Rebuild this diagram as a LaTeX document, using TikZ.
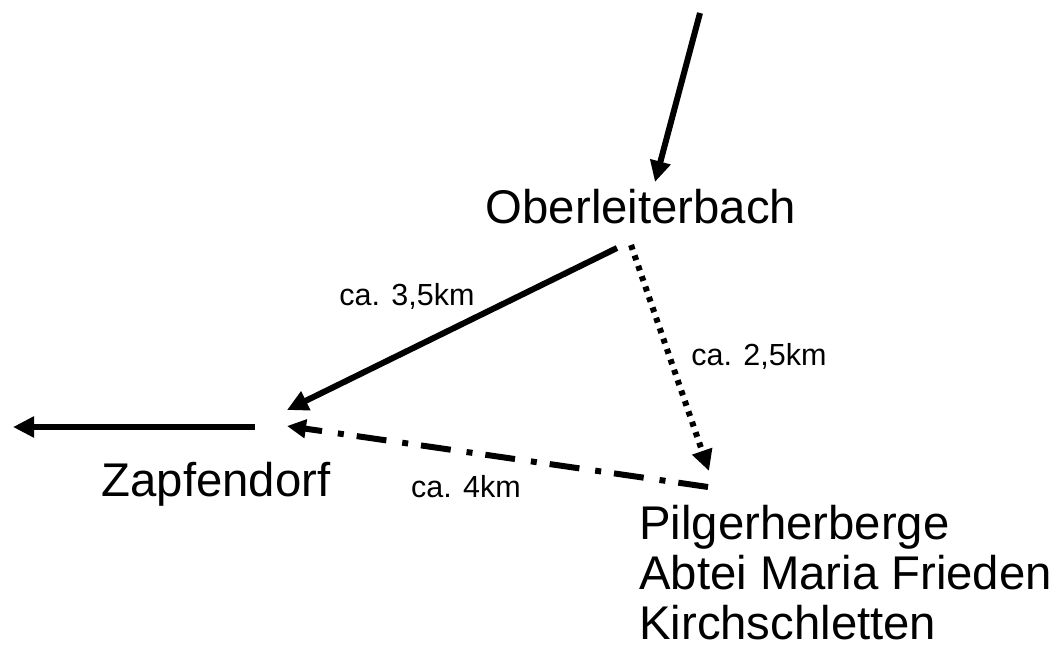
\documentclass[tikz,border=0pt]{standalone}
\usepackage{fontspec}
\setmainfont{Liberation Sans}
\usetikzlibrary{arrows.meta}
\begin{document}
\begin{tikzpicture}[x=1pt,y=-1pt,
  conn/.style={line width=6pt,-{Triangle[length=21pt,width=20pt]}},
  dotline/.style={line width=6pt,dash pattern=on 5pt off 6pt,-{Triangle[length=21pt,width=20pt]}},
  dashdotline/.style={line width=6pt,dash pattern=on 30pt off 13pt on 6pt off 16pt,-{Triangle[length=19pt,width=18pt]}},
  big/.style={font=\fontsize{47.3}{50}\selectfont,inner sep=0pt,anchor=base},
  small/.style={font=\fontsize{30.5}{32}\selectfont,inner sep=0pt,anchor=base},
]
\useasboundingbox (0,0) rectangle (1058,653);
% nodes
\node[big] (ober) at (641,223) {Oberleiterbach};
\node[big] (zapf) at (216,496) {Zapfendorf};
\node[big,anchor=base west] (pilg1) at (639,539) {Pilgerherberge};
\node[big,anchor=base west] (pilg2) at (639,589) {Abtei Maria Frieden};
\node[big,anchor=base west] (pilg3) at (639,639) {Kirchschletten};
% coordinates
\coordinate (topstart) at (700,13);
\coordinate (topend) at (655,182);
\coordinate (oberL) at (617,248);
\coordinate (oberR) at (631,245);
\coordinate (zapfA) at (287,410);
\coordinate (zapfB) at (287,426);
\coordinate (zapfL) at (255,427);
\coordinate (leftend) at (13,427);
\coordinate (pilgT) at (709,471);
\coordinate (pilgL) at (708,487);
% connectors
\draw[conn] (topstart) -- (topend);
\draw[conn] (oberL) -- (zapfA);
\draw[dotline] (oberR) -- (pilgT);
\draw[dashdotline] (pilgL) -- (zapfB);
\draw[conn] (zapfL) -- (leftend);
% labels
\node[small] (l1) at (407,305) {ca. 3,5km};
\node[small] (l2) at (759,365) {ca. 2,5km};
\node[small] (l3) at (466,497) {ca. 4km};
\end{tikzpicture}
\end{document}
